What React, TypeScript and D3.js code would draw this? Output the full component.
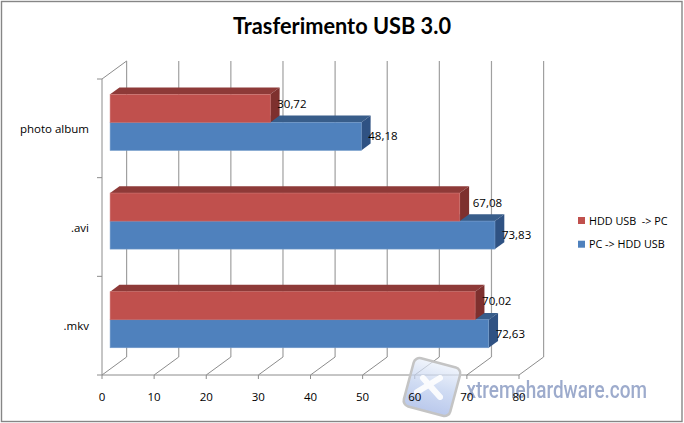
import React from 'react';
import * as d3 from 'd3';

const categories = ['photo album', '.avi', '.mkv'];
const seriesNames = ['HDD USB  -> PC', 'PC -> HDD USB'];
const hddToPc = [30.72, 67.08, 70.02];
const pcToHdd = [48.18, 73.83, 72.63];
const labelNudge = [[0, 0], [6, 0], [0, 0]];
const xTicks = [0, 10, 20, 30, 40, 50, 60, 70, 80];

const width = 684;
const height = 423;
const font = '"Open Sans", sans-serif';

// oblique projection: depth 0 is the front of the floor, 1 the back wall
const depthX = 24.6;
const depthY = -18;
const barFrom = 0.33;
const barTo = 0.71;

const x = d3.scaleLinear().domain([0, 80]).range([102, 519]);
const y = d3.scaleBand<string>().domain(categories).range([79, 375]).paddingInner(0.432).paddingOuter(0.216);
const inner = d3.scaleBand<number>().domain([0, 1]).range([0, y.bandwidth()]);

const faces = [
  { front: '#C0504D', top: '#8E3A38', side: '#7E302E', edge: '#CB6F6C' },
  { front: '#4F81BD', top: '#385D8A', side: '#2F5283', edge: '#7199C9' },
];

const px = (v: number, d: number) => x(v) + depthX * d;
const py = (yy: number, d: number) => yy + depthY * d;
const poly = (pts: [number, number][]) => d3.line()(pts) + 'Z';

function Bar({ value, cat, s }: { value: number; cat: string; s: number }) {
  const top = y(cat)! + inner(s)!;
  const bottom = top + inner.bandwidth();
  const f = faces[s];
  const a = barFrom;
  const b = barTo;
  return (
    <g>
      <path d={poly([[px(0, a), py(top, a)], [px(0, b), py(top, b)], [px(value, b), py(top, b)], [px(value, a), py(top, a)]])} fill={f.top} />
      <path d={poly([[px(value, a), py(top, a)], [px(value, b), py(top, b)], [px(value, b), py(bottom, b)], [px(value, a), py(bottom, a)]])} fill={f.side} />
      <rect x={px(0, a)} y={py(top, a)} width={px(value, a) - px(0, a)} height={bottom - top} fill={f.front} stroke={f.edge} strokeWidth={0.6} />
    </g>
  );
}

export default function App() {
  const bottom = 375;
  const leftTicks = [79, ...categories.map((c) => (y(c)! + y.bandwidth() + y.step() * 0.216))];
  return (
    <svg width={width} height={height} style={{ position: 'absolute', left: 0, top: 0, background: '#fff' }}>
      <defs>
        <linearGradient id="logoFill" x1="0" y1="0" x2="0" y2="1">
          <stop offset="0" stopColor="#EAF0FA" />
          <stop offset="0.5" stopColor="#BCCDEE" />
          <stop offset="1" stopColor="#9DB2E4" />
        </linearGradient>
        <filter id="soft" x="-5%" y="-20%" width="110%" height="140%">
          <feGaussianBlur stdDeviation="0.6" />
        </filter>
      </defs>
      <rect x={1.5} y={1.5} width={680.5} height={420} fill="#fff" stroke="#868686" strokeWidth={1.4} />
      <text x={342} y={33.5} textAnchor="middle" fontFamily="Lato, sans-serif" fontWeight={700} fontSize={22} textLength={218} lengthAdjust="spacingAndGlyphs">
        Trasferimento USB 3.0
      </text>

      {/* walls and grid */}
      <g stroke="#8C8C8C" fill="none" strokeWidth={1}>
        {xTicks.map((t) => (
          <g key={t}>
            <line x1={px(t, 1)} x2={px(t, 1)} y1={py(79, 1)} y2={py(bottom, 1)} stroke="#A0A0A0" strokeWidth={1.2} />
            <line x1={px(t, 0)} x2={px(t, 1)} y1={bottom} y2={py(bottom, 1)} />
            <line x1={px(t, 0)} x2={px(t, 0)} y1={bottom} y2={bottom + 4} />
          </g>
        ))}
        <line x1={px(0, 0)} x2={px(0, 1)} y1={79} y2={py(79, 1)} />
        <line x1={px(0, 0)} x2={px(0, 0)} y1={79} y2={bottom} />
        <line x1={px(0, 0)} x2={px(80, 0)} y1={bottom} y2={bottom} />
        {leftTicks.map((t, i) => (
          <line key={i} x1={px(0, 0) - 5} x2={px(0, 0)} y1={t} y2={t} />
        ))}
      </g>

      {/* bars, lower series first so the upper one sits over its top face */}
      {categories.map((c, i) => (
        <g key={c}>
          <Bar value={pcToHdd[i]} cat={c} s={1} />
          <Bar value={hddToPc[i]} cat={c} s={0} />
        </g>
      ))}

      {/* site watermark, under the tick labels */}
      <g>
        <rect x={-24} y={-25} width={48} height={50} rx={6} transform="translate(432 387) rotate(15)" fill="url(#logoFill)" fillOpacity={0.7} stroke="#C4C4C4" strokeWidth={2.5} />
        <g stroke="#fff" strokeWidth={6} strokeLinecap="round" opacity={0.9}>
          <line x1={423} y1={378} x2={440} y2={397} />
          <line x1={417} y1={392} x2={440} y2={378} />
        </g>
        <text transform="translate(466.5 398) scale(0.79 1)" fontFamily="Roboto, sans-serif" fontWeight={500} fontSize={24} fill="#8C9DC4" opacity={0.85} filter="url(#soft)">
          xtremehardware.com
        </text>
      </g>

      <g fontFamily={font} fontSize={11.5} fill="#000">
        {categories.map((c, i) => {
          const top = y(c)! + depthY * barFrom;
          return (
            <g key={c}>
              <text x={px(hddToPc[i], barFrom) + 7 + labelNudge[i][0]} y={top + 13.5}>
                {hddToPc[i].toFixed(2).replace('.', ',')}
              </text>
              <text x={px(pcToHdd[i], barFrom) + 7 + labelNudge[i][1]} y={top + inner.bandwidth() + 18}>
                {pcToHdd[i].toFixed(2).replace('.', ',')}
              </text>
              <text x={89} y={y(c)! + y.bandwidth() / 2 + 4.5} textAnchor="end">
                {c}
              </text>
            </g>
          );
        })}
        {xTicks.map((t) => (
          <text key={t} x={x(t)} y={401} textAnchor="middle">
            {t}
          </text>
        ))}
        {seriesNames.map((n, i) => (
          <g key={n}>
            <rect x={578} y={217 + i * 23.7} width={7} height={7} fill={faces[i].front} />
            <text x={589} y={224.5 + i * 23.7} xmlSpace="preserve" fontSize={10.8}>
              {n}
            </text>
          </g>
        ))}
      </g>
    </svg>
  );
}
